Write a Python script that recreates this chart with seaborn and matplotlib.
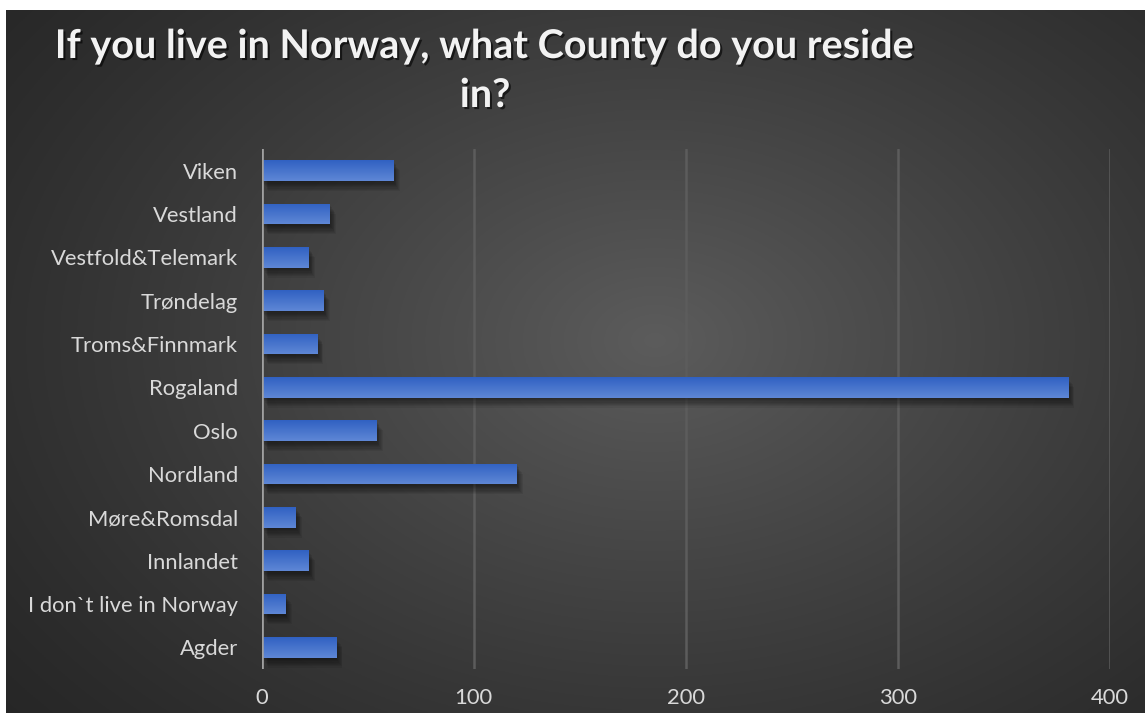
import numpy as np
import pandas as pd
import matplotlib
matplotlib.use("Agg")
import matplotlib.pyplot as plt
import matplotlib.patheffects as pe
import seaborn as sns

# Survey answers, listed top to bottom as shown
counties = ["Viken", "Vestland", "Vestfold&Telemark", "Trøndelag", "Troms&Finnmark",
            "Rogaland", "Oslo", "Nordland", "Møre&Romsdal", "Innlandet",
            "I don`t live in Norway", "Agder"]
responses = [62, 32, 22, 29, 26, 380, 54, 120, 16, 22, 11, 35]
x_ticks = [0, 100, 200, 300, 400]
title = "If you live in Norway, what County do you reside\nin?"

df = pd.DataFrame({"county": counties, "responses": responses})

sns.set_theme(style="dark")
plt.rcParams["font.family"] = ["Lato", "DejaVu Sans"]

W, H = 1145, 713
fig = plt.figure(figsize=(W / 100, H / 100), dpi=100, facecolor="white")

# Dark radial-gradient backdrop
bg = fig.add_axes([6 / W, 0, 1 - 6 / W, 1 - 10 / H], zorder=0)
bg.set_axis_off()
gx, gy = np.meshgrid(np.linspace(0, 1, 600), np.linspace(0, 1, 400))
r = np.sqrt(((gx - 0.57) / 0.75) ** 2 + ((gy - 0.47) / 0.85) ** 2)
shade = np.clip(1 - r, 0, 1) ** 1.2
lo, hi = np.array([0.15, 0.15, 0.15]), np.array([0.36, 0.36, 0.36])
img = lo + (hi - lo) * shade[..., None]
bg.imshow(img, extent=[0, 1, 0, 1], aspect="auto", origin="upper")
bg.set_xlim(0, 1)
bg.set_ylim(0, 1)

ax = fig.add_axes([261.5 / W, 1 - 669 / H, (1110 - 261.5) / W, (669 - 149) / H], zorder=1)
ax.patch.set_alpha(0)

sns.barplot(data=df, x="responses", y="county", order=counties, orient="h",
            color="#4472c4", width=0.48, ax=ax, saturation=1,
            edgecolor="none", linewidth=0)

# Gradient fill and soft drop shadow on each bar
grad = np.linspace(0, 1, 64)[:, None]
top_c = np.array([0.37, 0.53, 0.84])
bot_c = np.array([0.19, 0.38, 0.76])
grad_img = top_c + (bot_c - top_c) * grad[..., None] * np.ones((1, 2, 1))
soft_shadow = [pe.SimplePatchShadow(offset=(0.6 * k, -0.9 * k), shadow_rgbFace="black",
                                    alpha=0.07) for k in range(1, 9)]
for bar in ax.patches:
    bar.set_path_effects(soft_shadow + [pe.Normal()])
    x0, y0 = bar.get_x(), bar.get_y()
    w, h = bar.get_width(), bar.get_height()
    im = ax.imshow(grad_img, extent=[x0, x0 + w, y0 + h, y0], aspect="auto",
                   origin="lower", zorder=bar.get_zorder() + 0.1)
    im.set_clip_path(bar)

ax.set_xlim(0, 400)
ax.set_ylim(11.5, -0.5)
ax.set_xticks(x_ticks)
ax.set_xlabel("")
ax.set_ylabel("")
ax.grid(axis="x", color="#5c5c5c", linewidth=1.8)
ax.grid(axis="y", visible=False)
ax.set_axisbelow(True)
for s in ax.spines.values():
    s.set_visible(False)
ax.axvline(0, color="#a0a0a0", linewidth=2.6, zorder=5)
ax.tick_params(axis="both", length=0, colors="#d9d9d9", labelsize=15.8)
ax.tick_params(axis="x", pad=14)
ax.tick_params(axis="y", pad=17)

fig.text(485 / W, 1 - 28 / H, title, ha="center", va="top", multialignment="center",
         color="#f2f2f2", fontsize=28.5, fontweight="bold", linespacing=1.4,
         path_effects=[pe.withSimplePatchShadow(offset=(1.5, -1.5), shadow_rgbFace="black",
                                                alpha=0.6)])

fig.savefig("out.png", dpi=100, facecolor="white")
